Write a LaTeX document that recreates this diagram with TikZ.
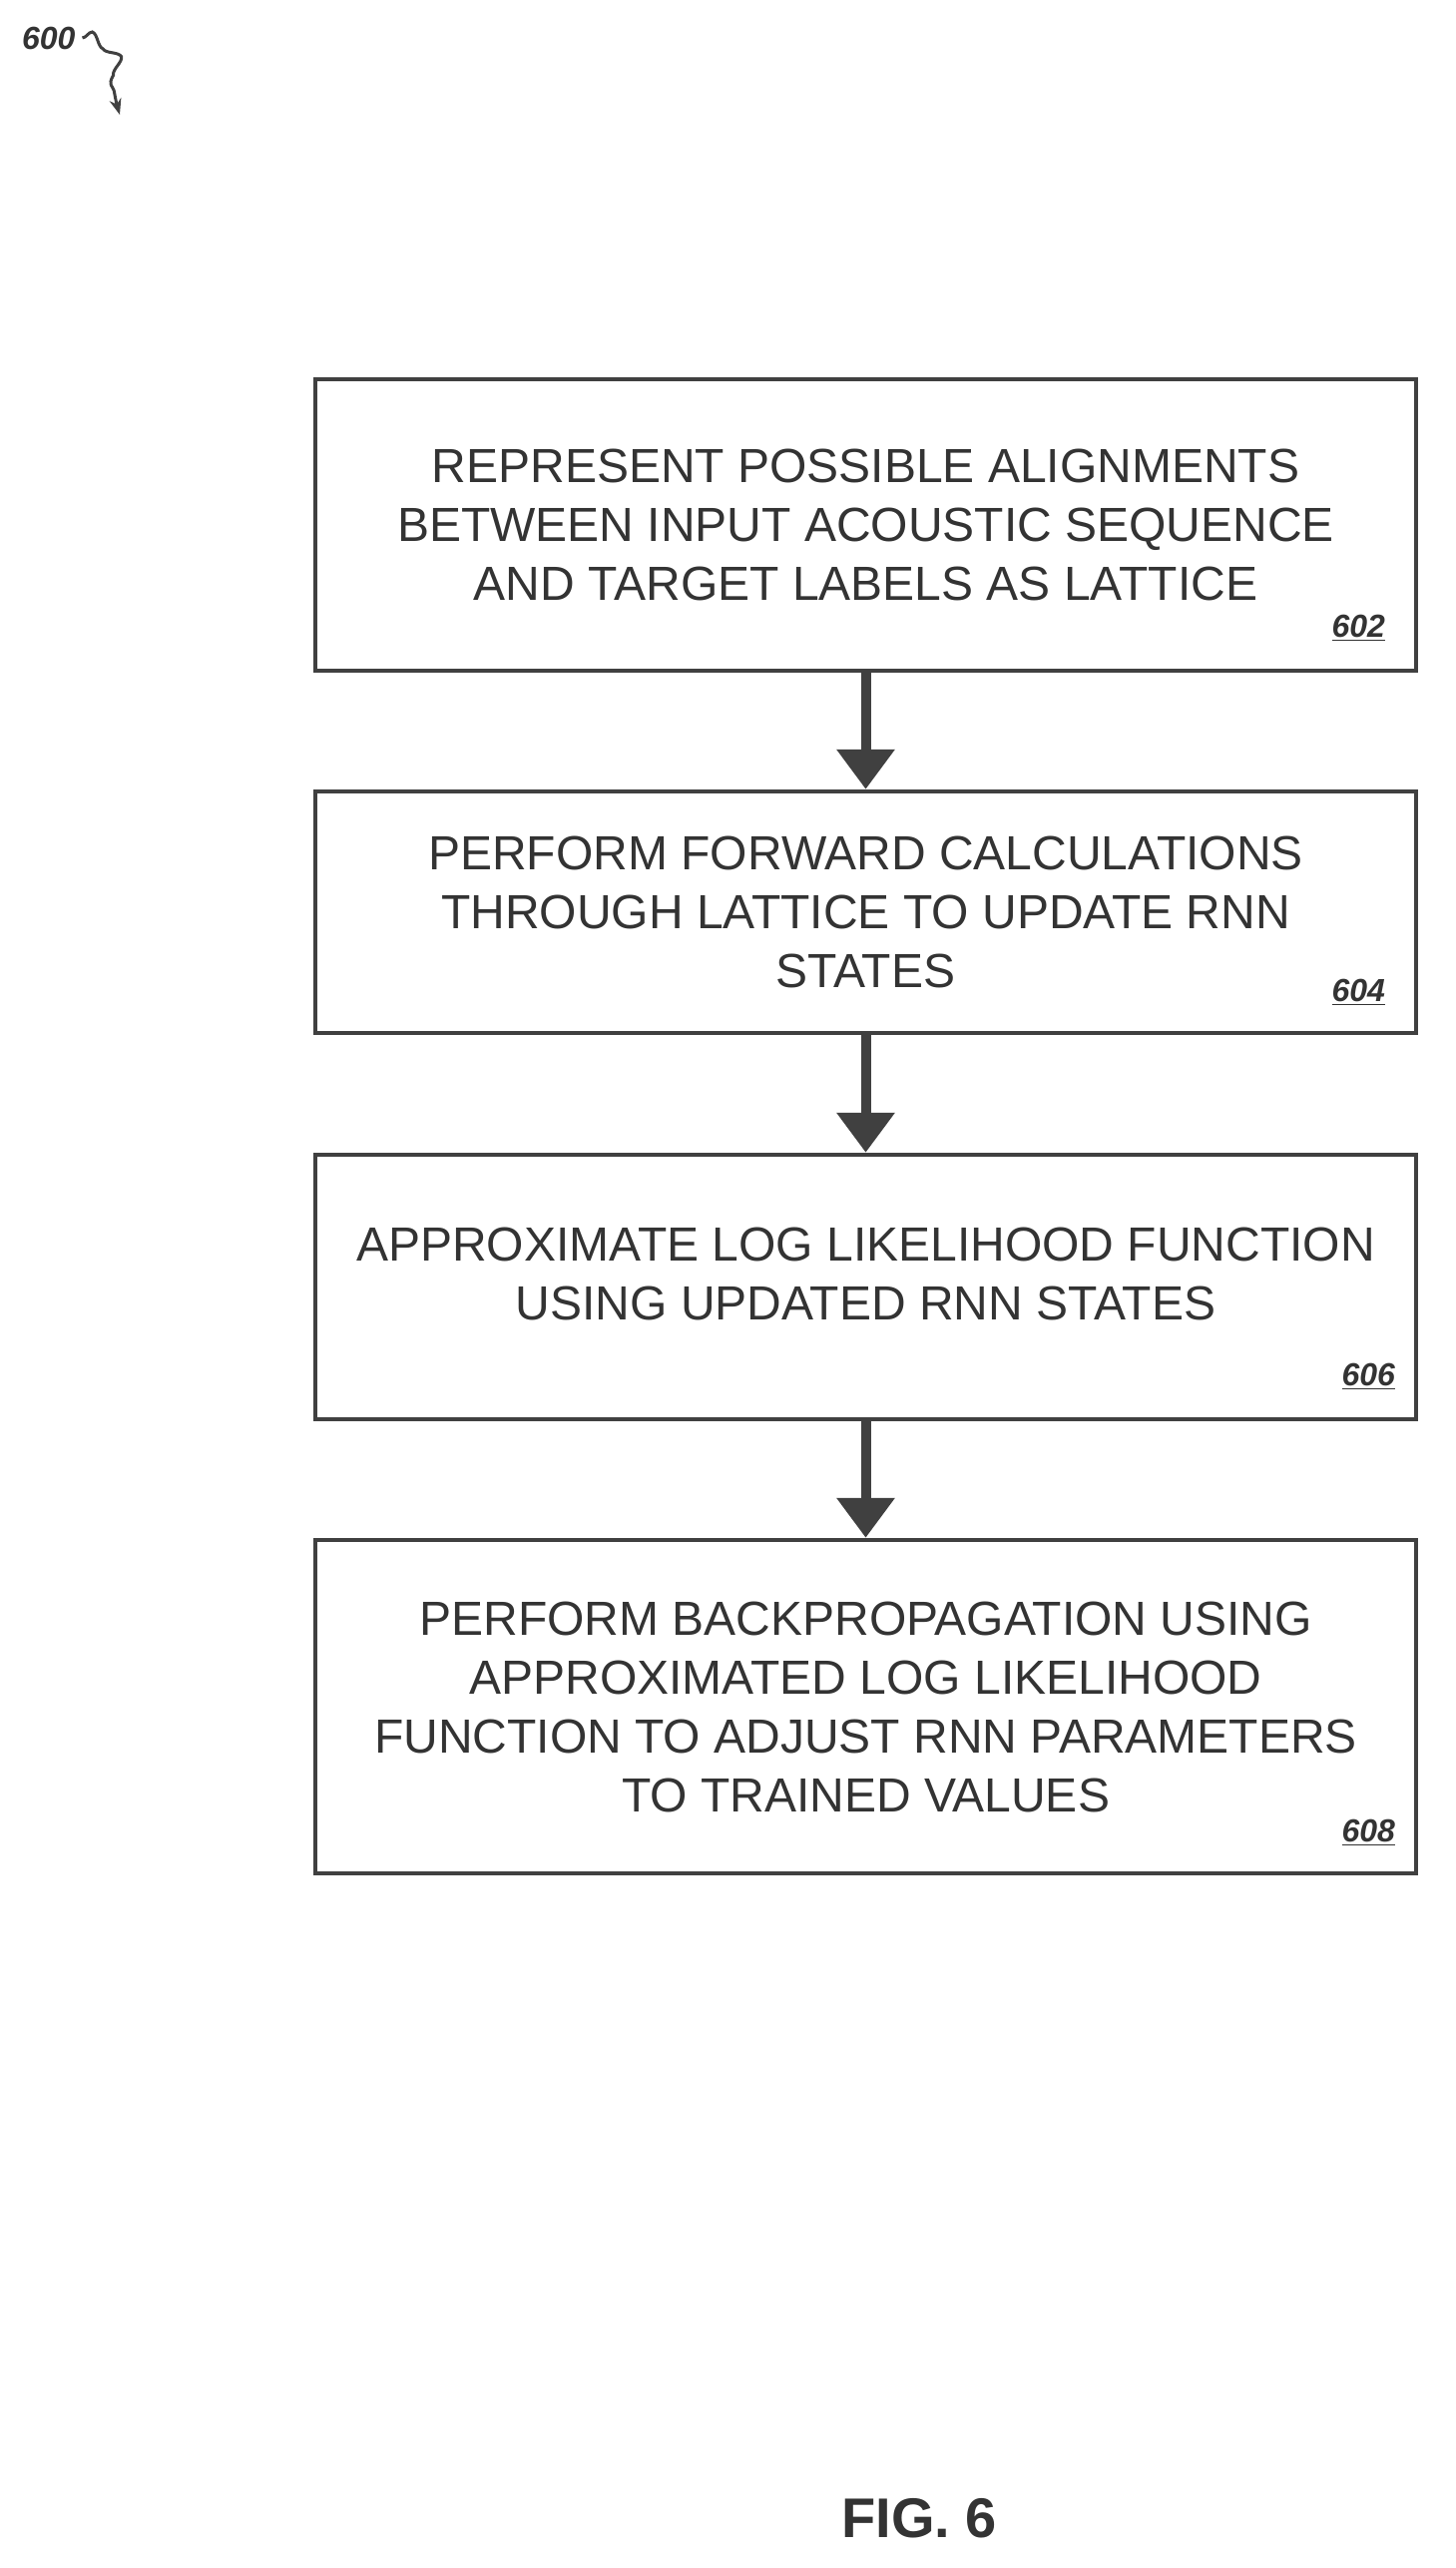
\documentclass[tikz,border=0pt]{standalone}
\usepackage{fontspec}
\setmainfont{Liberation Sans}
\usetikzlibrary{arrows.meta,decorations.pathmorphing}
\begin{document}
\begin{tikzpicture}[x=0.5pt,y=-0.5pt,
  box/.style={draw=black!75,line width=2.2pt,minimum width=551.5pt,inner sep=0pt,align=center,font=\fontsize{24}{29.5}\selectfont,text=black!80},
  num/.style={font=\fontsize{16}{16}\selectfont\itshape\bfseries,text=black!80},
  arr/.style={draw=black!75,line width=5pt,-{Triangle[length=20pt,width=28pt]}}]
\useasboundingbox (0,0) rectangle (1458,2573);
\node[box,minimum height=146pt] (b1) at (867.5,526) {REPRESENT POSSIBLE ALIGNMENTS\\BETWEEN INPUT ACOUSTIC SEQUENCE\\AND TARGET LABELS AS LATTICE};
\node[box,minimum height=121pt] (b2) at (867.5,914) {PERFORM FORWARD CALCULATIONS\\THROUGH LATTICE TO UPDATE RNN\\STATES};
\node[box,minimum height=132.5pt] (b3) at (867.5,1289.5) {APPROXIMATE LOG LIKELIHOOD FUNCTION\\USING UPDATED RNN STATES\\[-16pt]};
\node[box,minimum height=167pt] (b4) at (867.5,1710) {PERFORM BACKPROPAGATION USING\\APPROXIMATED LOG LIKELIHOOD\\FUNCTION TO ADJUST RNN PARAMETERS\\TO TRAINED VALUES};
\node[num,anchor=south east] (n1) at (1395,650) {\underline{602}};
\node[num,anchor=south east] (n2) at (1395,1015) {\underline{604}};
\node[num,anchor=south east] (n3) at (1405,1400) {\underline{606}};
\node[num,anchor=south east] (n4) at (1405,1857) {\underline{608}};
\draw[arr] (b1.south) -- (b2.north);
\draw[arr] (b2.south) -- (b3.north);
\draw[arr] (b3.south) -- (b4.north);
\node[font=\fontsize{28}{28}\selectfont\bfseries,text=black!80] (fig) at (921,2523) {FIG. 6};
\node[num,anchor=west] (lab) at (15,38) {600};
\coordinate (c) at (120,115);
\draw[black!75,line width=1.5pt,-{Stealth[length=8pt]},decorate,decoration={snake,amplitude=3pt,segment length=16pt,post length=6pt}] (lab.east) to[out=0,in=110] (c);
\end{tikzpicture}
\end{document}
